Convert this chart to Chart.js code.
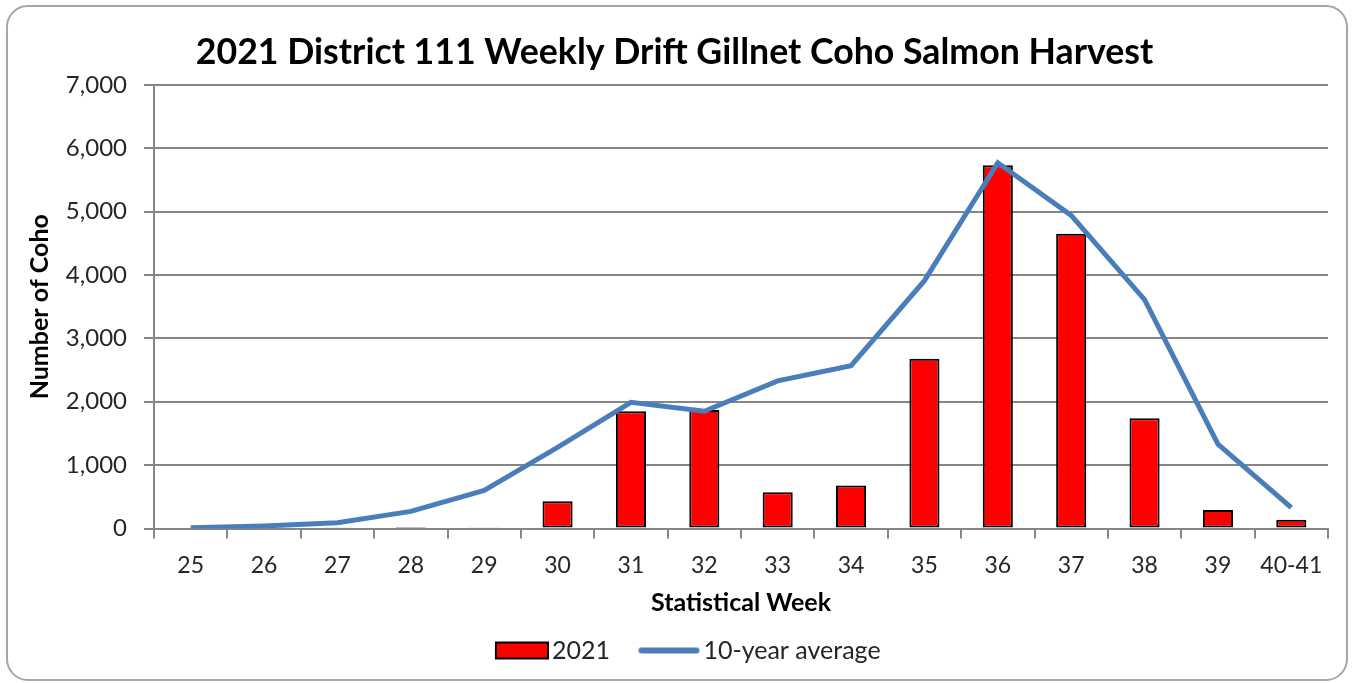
<!DOCTYPE html>
<html>
<head>
<meta charset="utf-8">
<script src="https://cdn.jsdelivr.net/npm/chart.js@4.4.1/dist/chart.umd.min.js"></script>
<style>
  html, body { margin: 0; padding: 0; background: #fff; }
  #wrap { position: relative; width: 1353px; height: 683px; }
  #frame {
    position: absolute; left: 6px; top: 5px; width: 1338px; height: 672px;
    border: 2px solid #a6a6a6; border-radius: 22px; box-sizing: content-box;
  }
  #barChart { position: absolute; left: 0; top: 0; }
</style>
</head>
<body>
<div id="wrap">
  <div id="frame"></div>
  <canvas id="barChart" width="1353" height="683"></canvas>
</div>
<script>
// Chart data
const weeks = ['25', '26', '27', '28', '29', '30', '31', '32', '33', '34', '35', '36', '37', '38', '39', '40-41'];
const harvest2021 = [0, 0, 20, 25, 20, 430, 1850, 1870, 570, 680, 2680, 5730, 4650, 1740, 290, 140];
const tenYearAvg = [10, 40, 90, 270, 600, 1280, 1990, 1850, 2330, 2570, 3910, 5770, 4940, 3610, 1330, 330];
const yTicks = [0, 1000, 2000, 3000, 4000, 5000, 6000, 7000];

const FONT = 'Lato, "Open Sans", sans-serif';
const GRID = '#868686';
const TEXT = '#262626';
const LINE_BLUE = '#4a7ebb';

// legend icons: drawn right-aligned on a small canvas so the text sits close to them
const ICON_BOX = 71;
function makeIcon(kind) {
    const c = document.createElement('canvas');
    c.width = ICON_BOX + 19;
    c.height = 20;
    const g = c.getContext('2d');
    if (kind === 'rect') {
        g.fillStyle = '#ff0000';
        g.fillRect(c.width - 54 + 1, 2, 52, 16);
        g.strokeStyle = '#000';
        g.lineWidth = 2;
        g.strokeRect(c.width - 54 + 1, 2, 52, 16);
    } else {
        g.strokeStyle = LINE_BLUE;
        g.lineWidth = 6;
        g.lineCap = 'round';
        g.beginPath();
        g.moveTo(c.width - 59, 10);
        g.lineTo(c.width - 4, 10);
        g.stroke();
    }
    return c;
}

function initChart() {
    const ctx = document.getElementById('barChart').getContext('2d');
    const rectIcon = makeIcon('rect');
    const lineIcon = makeIcon('line');

    new Chart(ctx, {
        type: 'bar',
        data: {
            labels: weeks,
            datasets: [
                {
                    label: '2021',
                    data: harvest2021,
                    backgroundColor: '#ff0000',
                    borderColor: '#000000',
                    borderWidth: 2,
                    borderSkipped: false,
                    categoryPercentage: 1.0,
                    barPercentage: 0.41,
                    order: 2
                },
                {
                    type: 'line',
                    label: '10-year average',
                    data: tenYearAvg,
                    borderColor: LINE_BLUE,
                    backgroundColor: LINE_BLUE,
                    borderWidth: 5,
                    pointRadius: 0,
                    tension: 0,
                    order: 1
                }
            ]
        },
        options: {
            responsive: false,
            animation: false,
            layout: {
                padding: { left: 21, right: 25, top: 0, bottom: 10 }
            },
            plugins: {
                title: {
                    display: true,
                    text: '2021 District 111 Weekly Drift Gillnet Coho Salmon Harvest',
                    color: '#000',
                    font: { family: FONT, size: 35.7, weight: 'bold' },
                    padding: { top: 31, bottom: 11 }
                },
                legend: {
                    position: 'bottom',
                    labels: {
                        color: TEXT,
                        font: { family: FONT, size: 25 },
                        usePointStyle: true,
                        pointStyleWidth: ICON_BOX,
                        boxHeight: 18,
                        padding: 10,
                        sort: (a, b) => a.datasetIndex - b.datasetIndex,
                        generateLabels: function(chart) {
                            return chart.data.datasets.map(function(ds, i) {
                                return {
                                    text: ds.label,
                                    fillStyle: ds.backgroundColor,
                                    strokeStyle: ds.borderColor,
                                    lineWidth: 0,
                                    pointStyle: ds.type === 'line' ? lineIcon : rectIcon,
                                    fontColor: TEXT,
                                    datasetIndex: i,
                                    hidden: false
                                };
                            });
                        }
                    }
                },
                tooltip: { enabled: false }
            },
            scales: {
                x: {
                    offset: true,
                    afterFit: function(scale) {
                        scale.height = 99.5;
                    },
                    grid: {
                        offset: true,
                        drawOnChartArea: false,
                        drawTicks: true,
                        tickLength: 10,
                        color: GRID,
                        lineWidth: 2
                    },
                    border: { display: true, color: GRID, width: 2 },
                    ticks: {
                        color: TEXT,
                        padding: 13,
                        maxRotation: 0,
                        autoSkip: false,
                        font: { family: FONT, size: 23 }
                    },
                    title: {
                        display: true,
                        text: 'Statistical Week',
                        color: '#000',
                        font: { family: FONT, size: 25, weight: 'bold' },
                        padding: { top: 4, bottom: 10 }
                    }
                },
                y: {
                    min: 0,
                    max: 7000,
                    afterBuildTicks: function(scale) {
                        scale.ticks = yTicks.map(v => ({ value: v }));
                    },
                    afterFit: function(scale) {
                        scale.width = 133;
                    },
                    grid: {
                        color: GRID,
                        lineWidth: 2,
                        tickLength: 10,
                        drawTicks: true
                    },
                    border: { display: true, color: GRID, width: 2 },
                    ticks: {
                        color: TEXT,
                        padding: 17,
                        font: { family: FONT, size: 24 },
                        callback: v => v.toLocaleString('en-US')
                    },
                    title: {
                        display: true,
                        text: 'Number of Coho',
                        color: '#000',
                        font: { family: FONT, size: 25, weight: 'bold' },
                        padding: { top: 4, bottom: 4 }
                    }
                }
            }
        }
    });
}

document.addEventListener('DOMContentLoaded', initChart);
</script>
</body>
</html>
